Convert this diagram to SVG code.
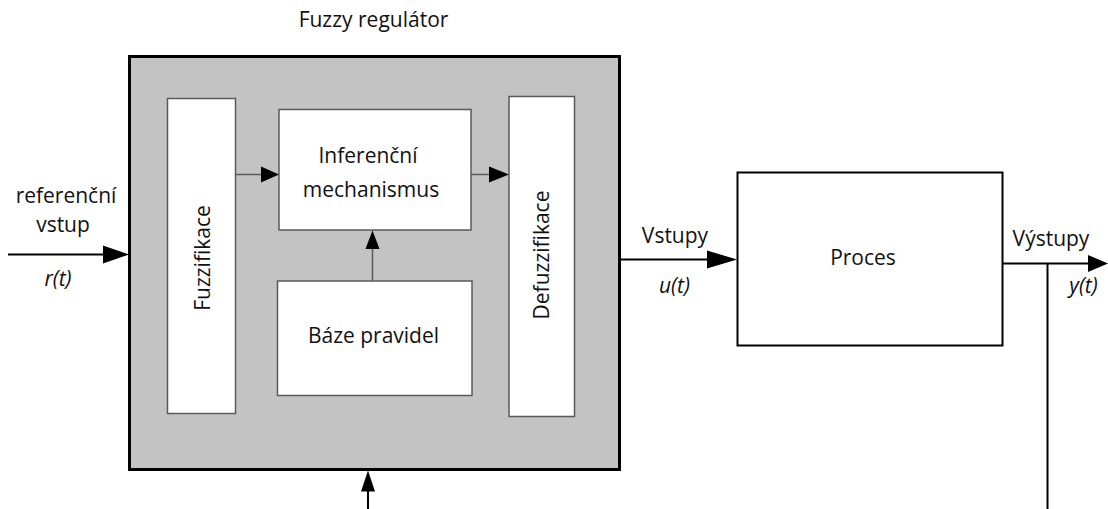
<svg xmlns="http://www.w3.org/2000/svg" width="1108" height="509" viewBox="0 0 1108 509">
<style>
text{font-family:"Open Sans","Noto Sans","Liberation Sans",sans-serif;font-size:21px;fill:#111;text-anchor:middle}
.it{font-style:italic}
.outer{fill:#c3c3c3;stroke:#000;stroke-width:3}
.inner{fill:#fff;stroke:#5a5a5a;stroke-width:1.5}
.proc{fill:#fff;stroke:#000;stroke-width:2}
.thick{stroke:#000;stroke-width:2;fill:none}
.thin{stroke:#5a5a5a;stroke-width:1.5;fill:none}
.head{fill:#000;stroke:none}
</style>
<rect width="1108" height="509" fill="#fff"/>
<g id="fuzzy-regulator">
<text x="373.5" y="27">Fuzzy regulátor</text>
<rect class="outer" x="129.5" y="56.5" width="490" height="413"/>
</g>
<g id="fuzzifikace">
<rect class="inner" x="167.5" y="98.5" width="68" height="315"/>
<text transform="translate(209.5,258) rotate(-90)">Fuzzifikace</text>
</g>
<g id="inferencni-mechanismus">
<rect class="inner" x="279" y="109.5" width="192" height="120.5"/>
<text x="368" y="163">Inferenční</text>
<text x="371" y="197">mechanismus</text>
</g>
<g id="baze-pravidel">
<rect class="inner" x="277.5" y="281" width="194.5" height="114.5"/>
<text x="373.5" y="343">Báze pravidel</text>
</g>
<g id="defuzzifikace">
<rect class="inner" x="509" y="96.5" width="65.5" height="320"/>
<text transform="translate(549,255) rotate(-90)">Defuzzifikace</text>
</g>
<g id="proces">
<rect class="proc" x="737.5" y="172.5" width="265" height="173"/>
<text x="863" y="265">Proces</text>
</g>
<g id="connectors">
<line class="thick" x1="8" y1="254.5" x2="110" y2="254.5"/>
<polygon class="head" points="103,245.5 129,254.5 103,263.5"/>
<line class="thin" x1="235.5" y1="174.5" x2="265" y2="174.5"/>
<polygon class="head" points="261,166.5 279,174.5 261,182.5"/>
<line class="thin" x1="471" y1="174.5" x2="495" y2="174.5"/>
<polygon class="head" points="489,166.5 509,174.5 489,182.5"/>
<line class="thin" x1="372.5" y1="281" x2="372.5" y2="245"/>
<polygon class="head" points="365.5,249 372.5,230.5 379.5,249"/>
<line class="thick" x1="619" y1="259.5" x2="712" y2="259.5"/>
<polygon class="head" points="707,250.5 737,259.5 707,268.5"/>
<line class="thick" x1="1002.5" y1="263.5" x2="1092" y2="263.5"/>
<polygon class="head" points="1088,255 1108,263.5 1088,272"/>
<line class="thick" x1="1047.5" y1="263.5" x2="1047.5" y2="509"/>
<line class="thick" x1="368" y1="509" x2="368" y2="488"/>
<polygon class="head" points="361,491.5 368,470.5 375,491.5"/>
</g>
<g id="labels">
<text x="66" y="203">referenční</text>
<text x="63" y="232">vstup</text>
<text class="it" x="58" y="286">r(t)</text>
<text x="675" y="243">Vstupy</text>
<text class="it" x="674.5" y="293">u(t)</text>
<text x="1051" y="246">Výstupy</text>
<text class="it" x="1083.5" y="293">y(t)</text>
</g>
</svg>
